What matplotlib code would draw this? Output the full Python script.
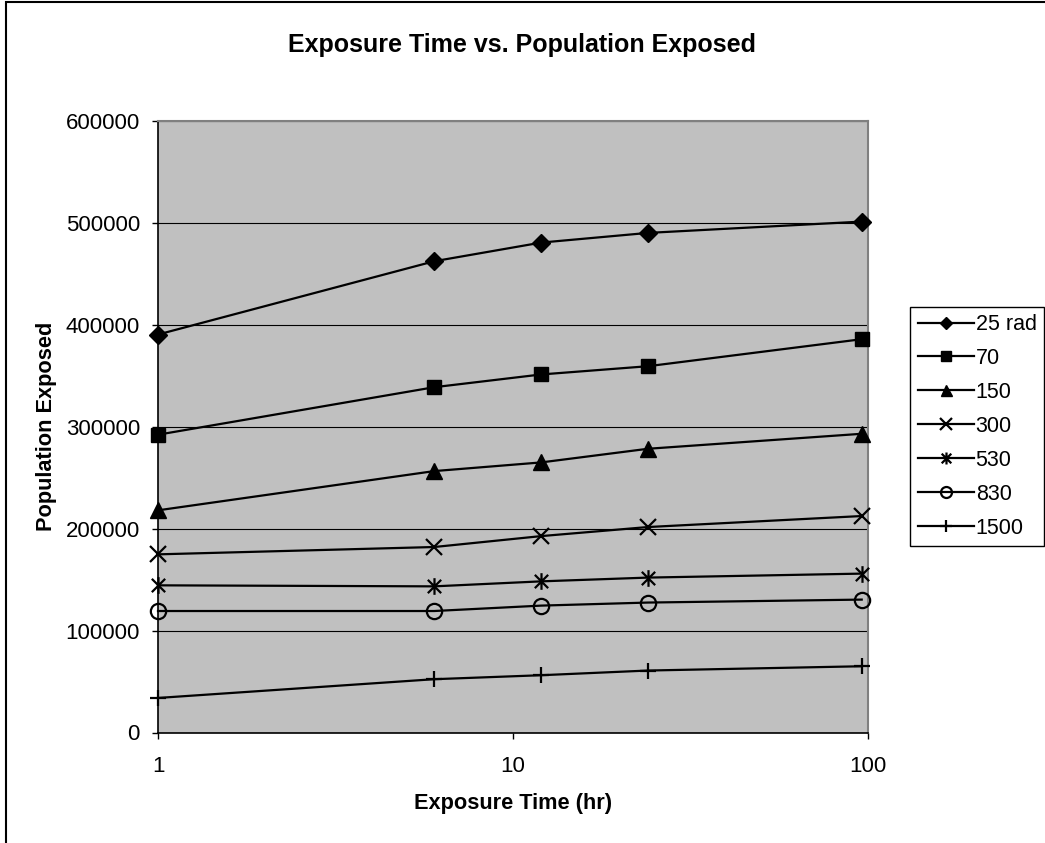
import matplotlib
matplotlib.use("Agg")
import matplotlib.pyplot as plt
from matplotlib.patches import Rectangle
from matplotlib.path import Path
import matplotlib.ticker as mticker

plt.rcParams['font.family'] = ['Liberation Sans', 'DejaVu Sans']

# ---- data ----
exposure_hr = [1, 6, 12, 24, 96]
series_labels = ["25 rad", "70", "150", "300", "530", "830", "1500"]
pop_25 = [390500, 462400, 480700, 490200, 501300]
pop_70 = [292200, 338800, 351300, 359400, 385900]
pop_150 = [218000, 256500, 265000, 278400, 293100]
pop_300 = [174800, 182000, 192700, 201600, 212400]
pop_530 = [144400, 143400, 148300, 152000, 155900]
pop_830 = [119200, 119200, 124500, 127500, 130400]
pop_1500 = [33900, 52300, 56200, 60800, 65000]
y_ticks = [0, 100000, 200000, 300000, 400000, 500000, 600000]
x_ticks = [1, 10, 100]
x_tick_labels = ["1", "10", "100"]

series_values = [pop_25, pop_70, pop_150, pop_300, pop_530, pop_830, pop_1500]

# asterisk marker (vertical bar + X)
asterisk = Path([(0, -1), (0, 1), (-0.8, -0.8), (0.8, 0.8), (-0.8, 0.8), (0.8, -0.8)],
                [Path.MOVETO, Path.LINETO, Path.MOVETO, Path.LINETO, Path.MOVETO, Path.LINETO])

styles = [
    dict(marker='D', ms=9, mfc='black', mec='black'),
    dict(marker='s', ms=10.5, mfc='black', mec='black'),
    dict(marker='^', ms=11, mfc='black', mec='black'),
    dict(marker='x', ms=11.5, mfc='black', mec='black', mew=1.6),
    dict(marker=asterisk, ms=12, mfc='black', mec='black', mew=1.6),
    dict(marker='o', ms=11, mfc='none', mec='black', mew=1.6),
    dict(marker='+', ms=12, mfc='black', mec='black', mew=1.6),
]

W, H = 1045, 843
fig = plt.figure(figsize=(W / 100, H / 100), dpi=100)
fig.patch.set_facecolor('white')

ax = fig.add_axes([158 / W, 1 - 732.5 / H, 710 / W, 611.5 / H])
ax.set_facecolor('#C0C0C0')

for vals, lab, st in zip(series_values, series_labels, styles):
    ax.plot(exposure_hr, vals, color='black', lw=1.6, label=lab, clip_on=False, zorder=3, **st)

ax.set_xscale('log')
ax.set_xlim(1, 100)
ax.set_ylim(0, 600000)
ax.set_xticks(x_ticks)
ax.set_xticklabels(x_tick_labels)
ax.xaxis.set_minor_locator(mticker.NullLocator())
ax.set_yticks(y_ticks)
ax.set_yticklabels([str(v) for v in y_ticks])
ax.yaxis.grid(True, color='black', lw=0.8)
ax.set_axisbelow(True)
ax.tick_params(axis='both', direction='out', length=4.5, width=1, labelsize=16, color='black')
ax.tick_params(axis='x', pad=12.2)
ax.tick_params(axis='y', pad=8.5)

for side in ['left', 'bottom']:
    ax.spines[side].set_color('black')
    ax.spines[side].set_linewidth(1.2)
for side in ['top', 'right']:
    ax.spines[side].set_color('#808080')
    ax.spines[side].set_linewidth(1.5)

fig.text(0.5, 1 - 52 / H, "Exposure Time vs. Population Exposed",
         ha='center', va='baseline', fontsize=18, fontweight='bold')
fig.text(513 / W, 1 - 809 / H, "Exposure Time (hr)", ha='center', va='baseline',
         fontsize=15.7, fontweight='bold')
fig.text(47 / W, 1 - 426 / H, "Population Exposed", ha='center', va='center',
         fontsize=15.7, fontweight='bold', rotation=90)

leg = fig.legend(loc='upper left', bbox_to_anchor=(910 / W, 1 - 306.5 / H),
                 bbox_transform=fig.transFigure, fontsize=15.5, frameon=True,
                 fancybox=False, shadow=False, edgecolor='black', framealpha=1,
                 handlelength=2.6, handletextpad=0.1, labelspacing=0.6,
                 borderpad=0.35, borderaxespad=0, markerscale=0.72)
leg.get_frame().set_linewidth(1.0)

fig.add_artist(Rectangle((5.5 / W, -0.05), 1.2, 1 + 0.05 - 2.5 / H,
                         transform=fig.transFigure, fill=False,
                         edgecolor='black', lw=1.5))

fig.savefig("out.png", dpi=100)
